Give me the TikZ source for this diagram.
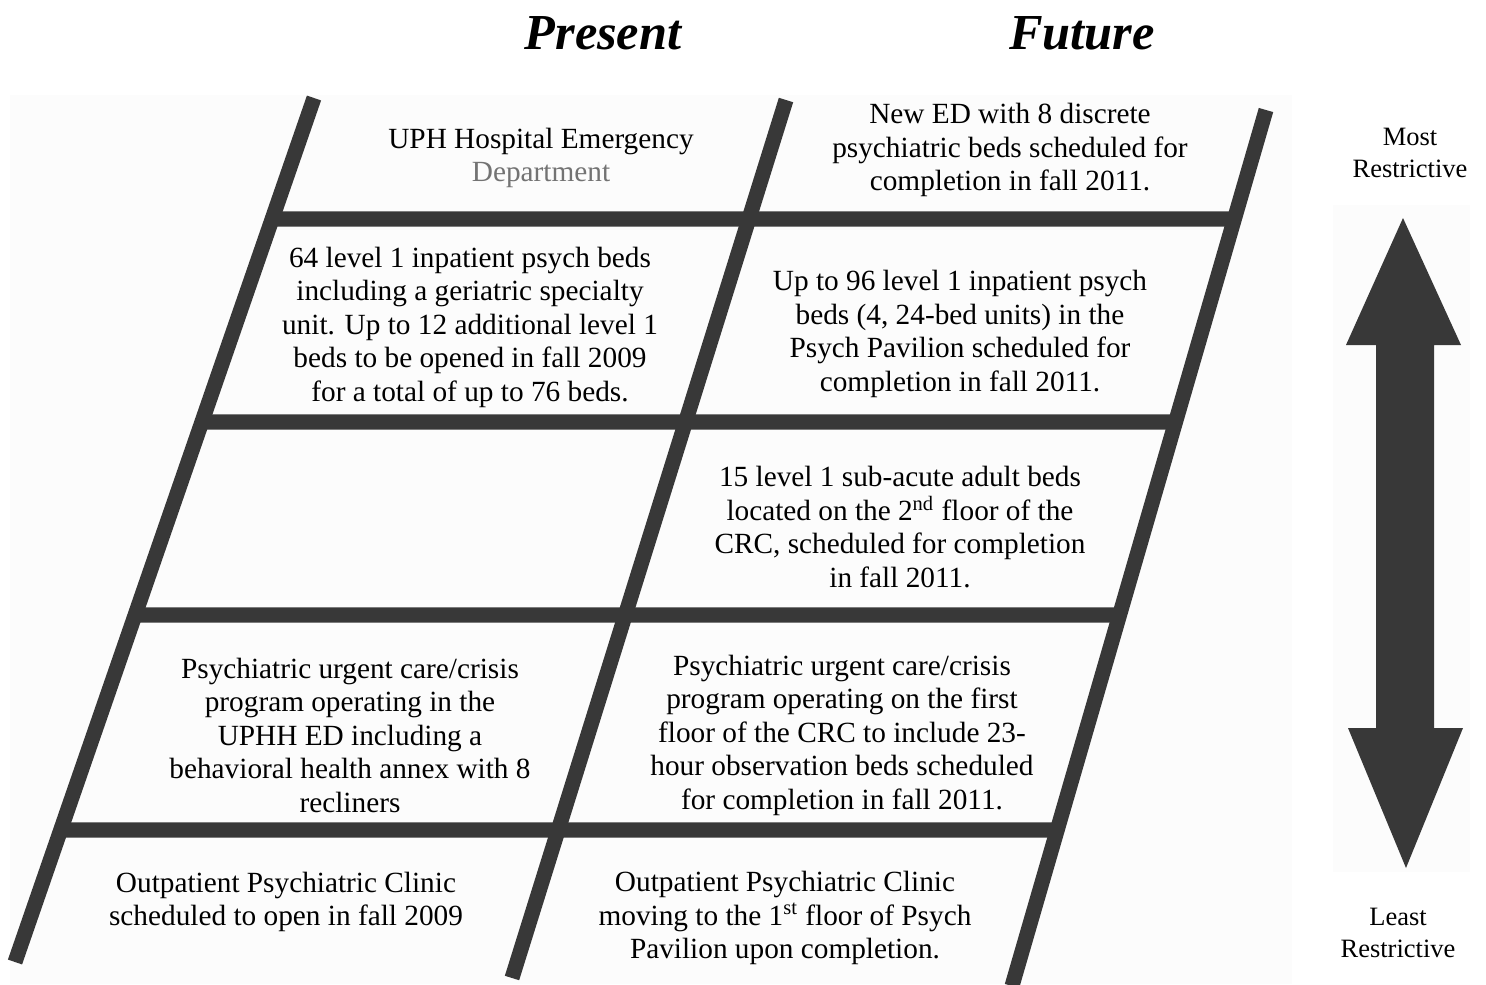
\documentclass[tikz,border=0pt]{standalone}
\usepackage{fontspec}
\setmainfont{Liberation Serif}
\usetikzlibrary{positioning}

\definecolor{ladder}{HTML}{383838}
\definecolor{panel}{HTML}{FCFCFC}

\tikzset{
  rail/.style={line width=6.4pt, draw=ladder},
  rung/.style={line width=6.6pt, draw=ladder},
  cell/.style={align=center, inner sep=0pt, font=\fontsize{12.5}{14.3}\selectfont},
  side/.style={align=center, inner sep=0pt, font=\fontsize{11.3}{13.7}\selectfont},
  title/.style={inner sep=0pt, font=\fontsize{21.5}{26}\selectfont\bfseries\itshape},
}

\begin{document}
\begin{tikzpicture}[x=0.015cm, y=-0.015cm]

\useasboundingbox (0,0) rectangle (1486,984);

% draw the background panels
\fill[panel] (10,95) rectangle (1292,984);
\fill[panel] (1333,205) rectangle (1470,872);

%% rail ends
\coordinate (lt) at (314,98);
\coordinate (lb) at (15,962);
\coordinate (mt) at (786,100);
\coordinate (mb) at (512,978);
\coordinate (rt) at (1266,110);
\coordinate (rb) at (1012,986);

%% draw rungs
\foreach \y in {219,422,615,830}
    \draw[rung] (intersection of lt--lb and 0,\y--10,\y) -- (intersection of rt--rb and 0,\y--10,\y);

%% draw rails
\draw[rail] (lt) -- (lb);
\draw[rail] (mt) -- (mb);
\draw[rail] (rt) -- (rb);

% column titles
\node[title] (present) at (603,33) {Present};
\node[title] (future) at (1082,33) {Future};

% row 1
\node[cell] (p1) at (541,158) {UPH Hospital Emergency\\ \textcolor{black!55}{Department}};
\node[cell] (f1) at (1010,150) {New ED with 8 discrete\\ psychiatric beds scheduled for\\ completion in fall 2011.};

% row 2
\node[cell] (p2) at (470,327) {64 level 1 inpatient psych beds\\ including a geriatric specialty\\ unit. Up to 12 additional level 1\\ beds to be opened in fall 2009\\ for a total of up to 76 beds.};
\node[cell] (f2) at (960,334) {Up to 96 level 1 inpatient psych\\ beds (4, 24-bed units) in the\\ Psych Pavilion scheduled for\\ completion in fall 2011.};

% row 3
\node[cell] (f3) at (900,527) {15 level 1 sub-acute adult beds\\ located on the 2\textsuperscript{nd} floor of the\\ CRC, scheduled for completion\\ in fall 2011.};

% row 4
\node[cell] (p4) at (350,735) {Psychiatric urgent care/crisis\\ program operating in the\\ UPHH ED including a\\ behavioral health annex with 8\\ recliners};
\node[cell] (f4) at (842,735) {Psychiatric urgent care/crisis\\ program operating on the first\\ floor of the CRC to include 23-\\ hour observation beds scheduled\\ for completion in fall 2011.};

% row 5
\node[cell] (p5) at (286,902) {Outpatient Psychiatric Clinic\\ scheduled to open in fall 2009};
\node[cell] (f5) at (785,918) {Outpatient Psychiatric Clinic\\ moving to the 1\textsuperscript{st} floor of Psych\\ Pavilion upon completion.};

% restrictive scale
\node[side] (most) at (1410,153) {Most\\ Restrictive};
\node[side] (least) at (1398,933) {Least\\ Restrictive};
\fill[ladder] (1403,218) -- (1461,345) -- (1434,345) -- (1434,728) -- (1463,728)
    -- (1406,868) -- (1348,728) -- (1376,728) -- (1376,345) -- (1346,345) -- cycle;

\end{tikzpicture}
\end{document}
